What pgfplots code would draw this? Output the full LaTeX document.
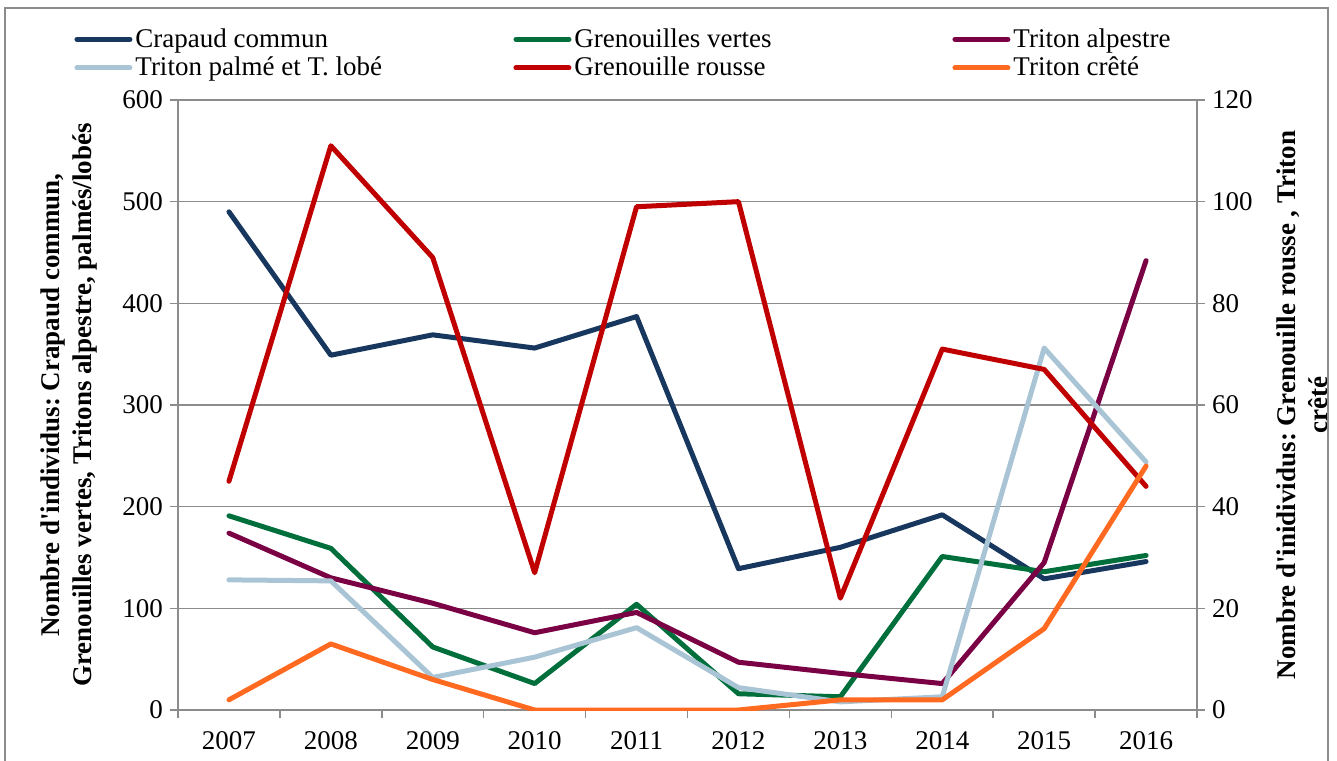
\documentclass[border=0pt]{standalone}
\usepackage{pgfplots}
\pgfplotsset{compat=1.18}
\usepackage{fontspec}
\setmainfont{Liberation Serif}
\frenchspacing

\definecolor{crapaud}{HTML}{17375E}
\definecolor{vertes}{HTML}{006F3C}
\definecolor{alpestre}{HTML}{7B0145}
\definecolor{palme}{HTML}{A9C4D4}
\definecolor{rousse}{HTML}{C00000}
\definecolor{crete}{HTML}{FF6A20}
\definecolor{axgray}{HTML}{8C8C8C}

\newcommand{\fs}{\fontsize{13.5}{16}\selectfont}
\newcommand{\lw}[1]{\makebox[187.5pt][l]{#1}}

\pgfplotsset{
  common/.style={
    width=509.5pt, height=305pt, scale only axis,
    xmin=-0.5, xmax=9.5,
    /pgf/number format/assume math mode=true,
    tick label style={font=\fs},
    label style={font=\fs\bfseries, align=center},
    axis line style={draw=axgray, line width=0.75pt},
    tick style={draw=axgray, line width=0.75pt},
    tick align=outside, major tick length=4pt, minor tick length=4pt,
  },
  ser/.style={line width=2.5pt, line join=round, line cap=round, draw=#1},
}

\begin{document}
\begin{tikzpicture}
% left axis: Crapaud, Grenouilles vertes, Tritons alpestre, palmés/lobés
\begin{axis}[common,
    ymin=0, ymax=600,
    axis y line*=left, axis x line*=bottom,
    xtick={0,...,9},
    xticklabels={2007,2008,2009,2010,2011,2012,2013,2014,2015,2016},
    xticklabel style={yshift=-3pt},
    minor xtick={-0.5,0.5,...,9.5},
    major x tick style={draw=none},
    ytick={0,100,...,600},
    ymajorgrids, grid style={axgray, line width=0.75pt},
    ylabel={Nombre d\textquotesingle individus: Crapaud commun,\\Grenouilles vertes, Tritons alpestre, palmés/lobés},
    ylabel style={at={(axis description cs:-0.072,0.5)}, anchor=south, rotate=0},
]
\addplot[ser=crapaud] coordinates {(0,490) (1,349) (2,369) (3,356) (4,387) (5,139) (6,160) (7,192) (8,129) (9,146)};
\addplot[ser=vertes] coordinates {(0,191) (1,159) (2,62) (3,26) (4,104) (5,16) (6,13) (7,151) (8,136) (9,152)};
\addplot[ser=alpestre] coordinates {(0,174) (1,130) (2,105) (3,76) (4,96) (5,47) (6,36) (7,26) (8,145) (9,442)};
\addplot[ser=palme] coordinates {(0,128) (1,127) (2,32) (3,52) (4,81) (5,22) (6,8) (7,13) (8,356) (9,244)};
\end{axis}
% right axis: Grenouille rousse, Triton crete
\begin{axis}[common,
    ymin=0, ymax=120,
    axis y line*=right, axis x line=none,
    xtick=\empty,
    ytick={0,20,...,120},
    ylabel={Nombre d\textquotesingle inidividus: Grenouille rousse , Triton\\crêté},
    ylabel style={at={(axis description cs:1.0716,0.5)}, anchor=north, rotate=0},
    legend columns=3,
    legend cell align=left,
    legend image code/.code={\draw[#1] (0pt,0pt) -- (26.5pt,0pt);},
    legend style={at={(axis description cs:-0.102,1.123)}, anchor=north west,
      draw=none, fill=none, inner sep=0pt, font=\fs,
      nodes={inner sep=1.5pt}, /tikz/column sep=0pt, /tikz/row sep=0.5pt},
]
\addlegendimage{ser=crapaud}\addlegendentry{\lw{Crapaud commun}}
\addlegendimage{ser=vertes}\addlegendentry{\lw{Grenouilles vertes}}
\addlegendimage{ser=alpestre}\addlegendentry{\lw{Triton alpestre}}
\addlegendimage{ser=palme}\addlegendentry{\lw{Triton palmé et T. lobé}}
\addplot[ser=rousse] coordinates {(0,45) (1,111) (2,89) (3,27) (4,99) (5,100) (6,22) (7,71) (8,67) (9,44)};
\addlegendentry{\lw{Grenouille rousse}}
\addplot[ser=crete] coordinates {(0,2) (1,13) (2,6) (3,0) (4,0) (5,0) (6,2) (7,2) (8,16) (9,48)};
\addlegendentry{\lw{Triton crêté}}
\end{axis}
\draw[axgray, line width=1pt] (-86.5pt,-30pt) rectangle (575pt,351pt);
\pgfresetboundingbox
\useasboundingbox (-89pt,-25pt) rectangle (579.5pt,355pt);
\end{tikzpicture}
\end{document}
